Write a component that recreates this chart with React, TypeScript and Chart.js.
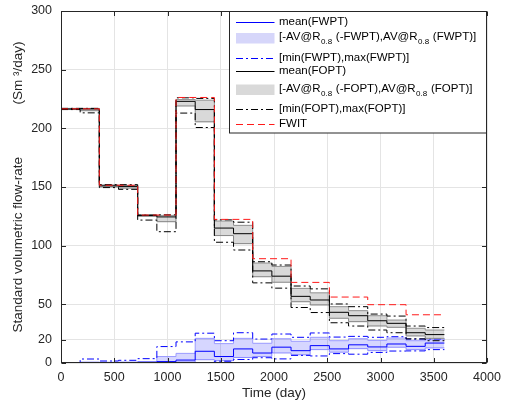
import React, { useEffect, useRef } from 'react';
import { Chart, registerables } from 'chart.js';

Chart.register(...registerables);

// ---------------- data ----------------
const halfYearDays = [0, 180, 360, 540, 720, 900, 1080, 1260, 1440, 1620, 1800, 1980, 2160, 2340, 2520, 2700, 2880, 3060, 3240, 3420, 3600];
const yearDays = [0, 360, 720, 1080, 1440, 1800, 2160, 2520, 2880, 3240, 3600];

const foptMean = [216.5, 216.5, 151, 150.5, 125.8, 124.5, 223, 216, 115, 110.2, 78.5, 74, 56.8, 53.7, 43.2, 40.3, 36, 33.8, 25.8, 24.2];
const foptLow = [216, 215, 150, 149, 125, 120.4, 219, 205.5, 108.6, 101.7, 73.5, 68.8, 52.2, 49.4, 38.1, 35.2, 31.5, 30.4, 23, 21];
const foptHigh = [217, 217, 151.8, 151.3, 126.3, 125.8, 224.5, 224, 121, 117.3, 85.2, 82.3, 63.6, 59.8, 48, 44.6, 40.3, 36.6, 29.6, 28.1];
const foptMin = [216, 213.2, 149.5, 148, 121.8, 111.9, 213, 200.7, 102.9, 96.3, 68.3, 63.8, 47.3, 43, 34.3, 31.5, 28.1, 25.8, 20.6, 19];
const foptMax = [217, 217, 152, 152, 126, 126.3, 226, 225.5, 122, 120, 86.3, 83.5, 65.6, 63.2, 50.3, 48, 41.7, 40, 31.5, 30.2];

const fwptMean = [0, 0.2, 0.3, 0.4, 0.6, 1.2, 2.5, 10, 5.5, 12, 8.5, 13.5, 10.5, 14.8, 12, 15.5, 13.7, 16.2, 14.2, 17];
const fwptLow = [0, 0, 0, 0, 0.1, 0.4, 0.8, 2.8, 2, 4.7, 5.5, 8.5, 7, 11.4, 9.2, 12.2, 10.5, 13.4, 11.4, 12.8];
const fwptHigh = [0, 0.8, 0.6, 0.8, 1.2, 5.5, 8.2, 21, 16.5, 21, 16.8, 20.7, 18.5, 21.9, 19, 20.7, 19.3, 21.3, 19, 19.9];
const fwptMin = [0, 0, 0, 0, 0, 0, 0, 0.3, 1.5, 3, 4.5, 3.5, 6.5, 6, 8, 7.5, 9, 10.2, 10.3, 11.4];
const fwptMax = [0, 3.4, 1.7, 2.3, 3.7, 14, 18, 25.4, 19, 25.8, 20.4, 24.7, 21.9, 25.6, 22.1, 22.7, 21.9, 22.4, 20.4, 20.5];

const fwit = [216.6, 151.5, 126.1, 226.3, 122.4, 88.9, 68.7, 56.2, 49.7, 41.1];

const xTicks = [0, 500, 1000, 1500, 2000, 2500, 3000, 3500, 4000];
const yTicks = [0, 20, 50, 100, 150, 200, 250, 300];

const legendLabels = [
  'mean(FWPT)',
  '[-AV@R_{0.8} (-FWPT),AV@R_{0.8} (FWPT)]',
  '[min(FWPT),max(FWPT)]',
  'mean(FOPT)',
  '[-AV@R_{0.8} (-FOPT),AV@R_{0.8} (FOPT)]',
  '[min(FOPT),max(FOPT)]',
  'FWIT',
];

const xTitle = 'Time (day)';
const yTitle = 'Standard volumetric flow-rate\u00A0\u00A0\u00A0\u00A0\u00A0\u00A0\u00A0\u00A0\u00A0\u00A0\u00A0\u00A0\u00A0\u00A0(Sm \u00B3/day)';

// ---------------- styles ----------------
const FONT = '"Liberation Sans", Arial, Helvetica, sans-serif';
const DASHDOT = [7, 3, 2, 3];
const DASHED = [7, 4];
const BLUE = '#0000ff';
const BLUE_EDGE = '#9a9aff';
const BLUE_FILL = 'rgba(0,0,255,0.16)';
const GRAY_EDGE = '#8f8f8f';
const GRAY_FILL = 'rgba(0,0,0,0.15)';
const RED = '#ff1a1a';
const AXIS = '#262626';

function stepPoints(times: number[], values: number[]) {
  return times.map((t, i) => ({ x: t, y: values[Math.min(i, values.length - 1)] }));
}

function lineDs(label: string, times: number[], values: number[], color: string, dash: number[], extra: any = {}) {
  return {
    label,
    data: stepPoints(times, values),
    borderColor: color,
    borderDash: dash,
    borderWidth: 1,
    pointRadius: 0,
    stepped: 'before',
    fill: false,
    ...extra,
  };
}

type LegendStyle = { kind: 'line' | 'box'; color: string; dash?: number[] };
const legendStyles: LegendStyle[] = [
  { kind: 'line', color: BLUE, dash: [] },
  { kind: 'box', color: 'rgb(214,214,250)' },
  { kind: 'line', color: BLUE, dash: DASHDOT },
  { kind: 'line', color: '#000000', dash: [] },
  { kind: 'box', color: 'rgb(217,217,217)' },
  { kind: 'line', color: '#000000', dash: DASHDOT },
  { kind: 'line', color: RED, dash: DASHED },
];
const legendRowOffsets = [10.5, 27, 46.5, 60, 78.5, 97.5, 112.5];

function drawRichText(ctx: CanvasRenderingContext2D, text: string, x: number, y: number) {
  const parts = text.split(/(_\{[^}]*\})/).filter((p) => p.length > 0);
  let cx = x;
  for (const p of parts) {
    if (p.startsWith('_{')) {
      const sub = p.slice(2, -1);
      ctx.font = `8px ${FONT}`;
      ctx.fillText(sub, cx + 0.5, y + 5);
      cx += ctx.measureText(sub).width + 1;
    } else {
      ctx.font = `11.5px ${FONT}`;
      ctx.fillText(p, cx, y);
      cx += ctx.measureText(p).width;
    }
  }
}

const framePlugin = {
  id: 'frame',
  afterDatasetsDraw(chart: any) {
    const { ctx, chartArea: a, scales } = chart;
    const x = scales.x;
    const y = scales.y;
    ctx.save();
    ctx.setLineDash([]);
    ctx.strokeStyle = AXIS;
    ctx.lineWidth = 1;
    const L = Math.round(a.left) + 0.5;
    const R = Math.round(a.right) - 0.5;
    const T = Math.round(a.top) + 0.5;
    const B = Math.round(a.bottom) - 0.5;
    ctx.strokeRect(L, T, R - L, B - T);
    const tl = 4.5;
    ctx.beginPath();
    for (const v of xTicks) {
      const px = Math.round(x.getPixelForValue(v)) + 0.5;
      ctx.moveTo(px, B);
      ctx.lineTo(px, B - tl);
      ctx.moveTo(px, T);
      ctx.lineTo(px, T + tl);
    }
    for (const v of yTicks) {
      const py = Math.round(y.getPixelForValue(v)) + 0.5;
      ctx.moveTo(L, py);
      ctx.lineTo(L + tl, py);
      ctx.moveTo(R, py);
      ctx.lineTo(R - tl, py);
    }
    ctx.stroke();
    ctx.restore();
  },
  afterDraw(chart: any) {
    const { ctx, chartArea: a } = chart;
    ctx.save();
    const boxL = 229.5;
    const boxT = Math.round(a.top) + 0.5;
    const boxR = Math.round(a.right) - 0.5;
    const boxB = boxT + 121.5;
    ctx.setLineDash([]);
    ctx.fillStyle = '#ffffff';
    ctx.fillRect(boxL, boxT, boxR - boxL, boxB - boxT);
    ctx.strokeStyle = AXIS;
    ctx.lineWidth = 1;
    ctx.strokeRect(boxL, boxT, boxR - boxL, boxB - boxT);
    const sx0 = boxL + 6.5;
    const sx1 = boxL + 45;
    const tx = boxL + 49.5;
    legendLabels.forEach((label, i) => {
      const st = legendStyles[i];
      const ry = a.top + legendRowOffsets[i];
      if (st.kind === 'box') {
        ctx.fillStyle = st.color;
        ctx.fillRect(sx0, ry - 5, sx1 - sx0, 10.5);
      } else {
        ctx.beginPath();
        ctx.strokeStyle = st.color;
        ctx.lineWidth = 1.2;
        ctx.setLineDash(st.dash || []);
        ctx.moveTo(sx0, Math.round(ry) + 0.5);
        ctx.lineTo(sx1, Math.round(ry) + 0.5);
        ctx.stroke();
        ctx.setLineDash([]);
      }
      ctx.fillStyle = '#000000';
      ctx.textBaseline = 'middle';
      ctx.textAlign = 'left';
      drawRichText(ctx, label, tx, st.kind === 'box' ? ry - 1 : ry);
    });
    ctx.restore();
  },
};

export default function App() {
  const canvasRef = useRef<HTMLCanvasElement | null>(null);

  useEffect(() => {
    if (!canvasRef.current) return;
    const datasets: any[] = [
      lineDs('FWIT', yearDays, fwit, RED, DASHED),
      lineDs('mean(FOPT)', halfYearDays, foptMean, '#000', []),
      lineDs('max(FOPT)', halfYearDays, foptMax, '#000', DASHDOT),
      lineDs('min(FOPT)', halfYearDays, foptMin, '#000', DASHDOT),
      lineDs('AV@R(FOPT)', halfYearDays, foptHigh, GRAY_EDGE, [], { fill: '+1', backgroundColor: GRAY_FILL }),
      lineDs('-AV@R(-FOPT)', halfYearDays, foptLow, GRAY_EDGE, []),
      lineDs('mean(FWPT)', halfYearDays, fwptMean, BLUE, []),
      lineDs('max(FWPT)', halfYearDays, fwptMax, BLUE, DASHDOT),
      lineDs('min(FWPT)', halfYearDays, fwptMin, BLUE, DASHDOT),
      lineDs('AV@R(FWPT)', halfYearDays, fwptHigh, BLUE_EDGE, [], { fill: '+1', backgroundColor: BLUE_FILL }),
      lineDs('-AV@R(-FWPT)', halfYearDays, fwptLow, BLUE_EDGE, []),
    ];
    const chart = new Chart(canvasRef.current, {
      type: 'line',
      data: { datasets },
      options: {
        animation: false,
        responsive: true,
        maintainAspectRatio: false,
        events: [],
        layout: { padding: { top: 11, right: 22, left: 0, bottom: 0 } },
        plugins: { legend: { display: false }, tooltip: { enabled: false } },
        scales: {
          x: {
            type: 'linear',
            min: 0,
            max: 4000,
            afterBuildTicks: (s: any) => {
              s.ticks = xTicks.map((v) => ({ value: v }));
            },
            afterFit: (s: any) => {
              s.height = 46;
            },
            grid: { color: '#e4e4e4', drawTicks: true, tickLength: 7, tickColor: 'rgba(0,0,0,0)', lineWidth: 1 },
            border: { display: false },
            ticks: { padding: 0, color: AXIS, font: { size: 12.5, family: FONT }, maxRotation: 0, autoSkip: false, callback: (v: any) => String(v) },
            title: { display: true, text: xTitle, color: AXIS, font: { size: 13.5, family: FONT }, padding: { top: 0, bottom: 8 } },
          },
          y: {
            type: 'linear',
            min: 0,
            max: 300,
            afterBuildTicks: (s: any) => {
              s.ticks = yTicks.map((v) => ({ value: v }));
            },
            afterFit: (s: any) => {
              s.width = 61;
            },
            grid: { color: '#e4e4e4', drawTicks: true, tickLength: 9, tickColor: 'rgba(0,0,0,0)', lineWidth: 1 },
            border: { display: false },
            ticks: { padding: 0, color: AXIS, font: { size: 12.5, family: FONT }, autoSkip: false, callback: (v: any) => String(v) },
            title: { display: true, text: yTitle, color: AXIS, font: { size: 13.5, family: FONT }, padding: { top: 10.5, bottom: 0 } },
          },
        },
      },
      plugins: [framePlugin],
    } as any);
    return () => chart.destroy();
  }, []);

  return (
    <div style={{ position: 'fixed', left: 0, top: 0, width: 509, height: 409, background: '#fff' }}>
      <canvas ref={canvasRef} />
    </div>
  );
}
